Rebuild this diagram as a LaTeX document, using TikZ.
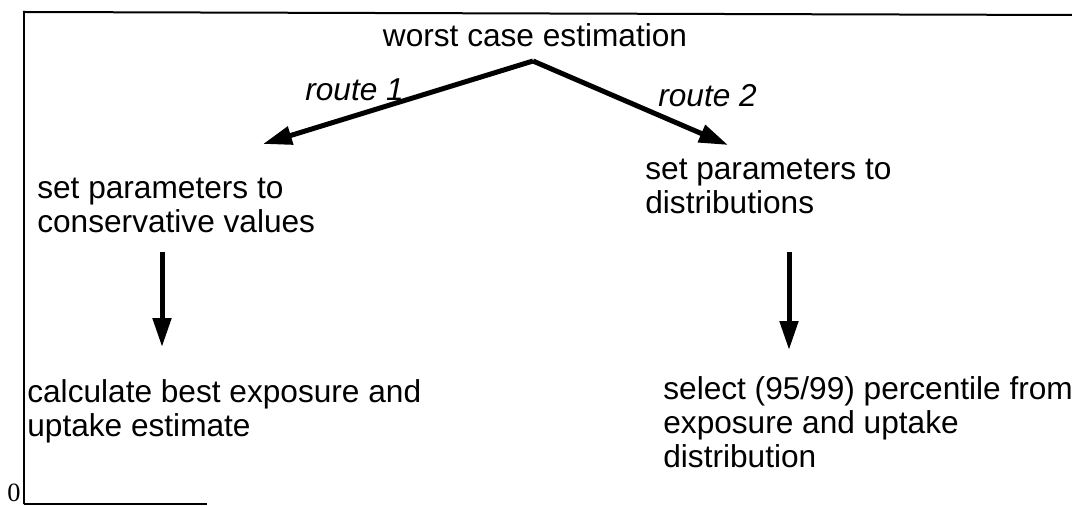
\documentclass[tikz,border=0pt]{standalone}
\usepackage{fontspec}
\setmainfont{Liberation Sans}
\newfontfamily\axisfont{Liberation Serif}
\usetikzlibrary{arrows.meta, positioning}

\begin{document}
\begin{tikzpicture}[
    x=0.02cm, y=-0.02cm,
    font=\fontsize{18pt}{19.5pt}\selectfont,
    step text/.style={
        inner sep=0pt,
        anchor=base west,
        align=left
    },
    route label/.style={
        inner sep=0pt,
        anchor=base west,
        font=\fontsize{18pt}{19.5pt}\selectfont\itshape
    },
    flow/.style={
        -{Triangle[length=0.58cm, width=0.36cm]},
        line width=0.1cm,
        draw=black
    },
    frame line/.style={
        line width=0.04cm,
        draw=black
    }
]
    \useasboundingbox (0,0) rectangle (1072,506);

    % --- frame ---
    \draw[frame line] (24,504) -- (24,12) -- (1072,15);
    \draw[frame line] (24,504) -- (207,504);
    \node[inner sep=0pt, anchor=base west, font=\axisfont\fontsize{15pt}{15pt}\selectfont] (zero) at (7,501) {0};

    % --- start ---
    \node[inner sep=0pt, anchor=base] (worst) at (535,47) {worst case estimation};
    \coordinate (apex) at (533,61);

    % --- route 1 (left), base = last line ---
    \node[step text] (cons) at (37,233) {set parameters to\\conservative values};
    \node[step text] (best) at (27,437) {calculate best exposure and\\uptake estimate};

    % --- route 2 (right) ---
    \node[step text] (dist) at (645,214) {set parameters to\\distributions};
    \node[step text] (pct) at (663,468) {select (95/99) percentile from\\exposure and uptake\\distribution};

    % --- route labels ---
    \node[route label] (r1) at (305,101) {route 1};
    \node[route label] (r2) at (658,107) {route 2};

    % --- arrows ---
    \coordinate (tip1) at (263,144);
    \coordinate (tip2) at (728,145);
    \draw[flow] (apex) -- (tip1);
    \draw[flow] (apex) -- (tip2);

    \coordinate (down1) at (162,252);
    \coordinate (down2) at (789,252);
    \draw[flow] (down1) -- (down1 |- 0,347);
    \draw[flow] (down2) -- (down2 |- 0,350);

\end{tikzpicture}
\end{document}
